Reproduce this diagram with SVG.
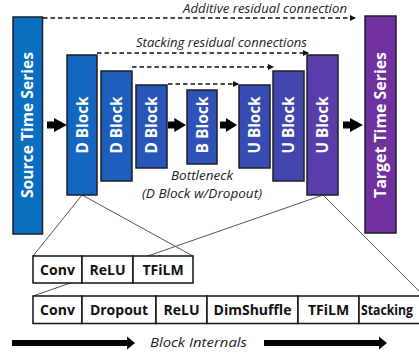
<svg xmlns="http://www.w3.org/2000/svg" width="419" height="353" viewBox="0 0 419 353">
<style>
.blk{stroke:#1e1e2a;stroke-width:1.5}
.bt{font-family:"Open Sans","Liberation Sans",sans-serif;font-weight:bold;font-size:15.5px;fill:#fff;text-anchor:middle}
.it{font-family:"Open Sans","Liberation Sans",sans-serif;font-style:italic;font-size:12.5px;fill:#222}
.dash{stroke:#111;stroke-width:1.3;stroke-dasharray:4.5,3;fill:none}
.cell{fill:#fff;stroke:#111;stroke-width:1.5}
.ct{font-family:"Open Sans","Liberation Sans",sans-serif;font-weight:bold;font-size:14px;fill:#111;text-anchor:middle}
.zoom{stroke:#555;stroke-width:1;fill:none}
</style>
<defs>
<marker id="ah" viewBox="0 0 6 6" refX="5" refY="3" markerWidth="6" markerHeight="6" markerUnits="userSpaceOnUse" orient="auto">
<path d="M0,0 L6,3 L0,6 Z" fill="#111"/>
</marker>
<path id="barrow" d="M0,-3.5 L7,-3.5 L7,-7 L20,0 L7,7 L7,3.5 L0,3.5 Z" fill="#000"/>
</defs>
<rect width="419" height="353" fill="#fff"/>

<g id="connectors">
<path class="dash" d="M43,18 H355" marker-end="url(#ah)"/>
<path class="dash" d="M97,53 H308" marker-end="url(#ah)"/>
<path class="dash" d="M132,67 H273" marker-end="url(#ah)"/>
<path class="dash" d="M168,84 H238" marker-end="url(#ah)"/>
<use href="#barrow" x="47" y="125"/>
<use href="#barrow" x="168" y="125" transform="translate(168,125) scale(0.9,1) translate(-168,-125)"/>
<use href="#barrow" x="220" y="125" transform="translate(220,125) scale(0.85,1) translate(-220,-125)"/>
<use href="#barrow" x="343" y="125"/>
<path class="zoom" d="M33,256 L82,195 L193,256"/>
<path class="zoom" d="M33,296 L323,195 L424,296"/>
</g>

<text class="it" x="183" y="13" textLength="164" lengthAdjust="spacingAndGlyphs">Additive residual connection</text>
<text class="it" x="136" y="47" textLength="171" lengthAdjust="spacingAndGlyphs">Stacking residual connections</text>
<text class="it" x="202" y="180" style="text-anchor:middle" textLength="62" lengthAdjust="spacingAndGlyphs">Bottleneck</text>
<text class="it" x="202" y="198" style="text-anchor:middle" textLength="120" lengthAdjust="spacingAndGlyphs">(D Block w/Dropout)</text>

<g id="source">
<rect class="blk" x="13" y="17" width="29.5" height="217" fill="#0a6fc0"/>
<text class="bt" transform="translate(27.5,125) rotate(-90)" y="5.5" textLength="146" lengthAdjust="spacingAndGlyphs">Source Time Series</text>
</g>
<g id="d1">
<rect class="blk" x="67" y="55" width="30" height="140" fill="#1466c0"/>
<text class="bt" transform="translate(82,125) rotate(-90)" y="5.5" textLength="57" lengthAdjust="spacingAndGlyphs">D Block</text>
</g>
<g id="d2">
<rect class="blk" x="101" y="71" width="31" height="110" fill="#1d5dbc"/>
<text class="bt" transform="translate(116.5,125) rotate(-90)" y="5.5" textLength="57" lengthAdjust="spacingAndGlyphs">D Block</text>
</g>
<g id="d3">
<rect class="blk" x="136" y="85" width="31" height="83" fill="#2755b8"/>
<text class="bt" transform="translate(151.5,125) rotate(-90)" y="5.5" textLength="57" lengthAdjust="spacingAndGlyphs">D Block</text>
</g>
<g id="b">
<rect class="blk" x="187" y="90" width="30" height="74" fill="#2f52b6"/>
<text class="bt" transform="translate(202,125) rotate(-90)" y="5.5" textLength="57" lengthAdjust="spacingAndGlyphs">B Block</text>
</g>
<g id="u1">
<rect class="blk" x="239" y="85" width="31" height="83" fill="#374cb2"/>
<text class="bt" transform="translate(254.5,125) rotate(-90)" y="5.5" textLength="57" lengthAdjust="spacingAndGlyphs">U Block</text>
</g>
<g id="u2">
<rect class="blk" x="273" y="71" width="31" height="110" fill="#4245ae"/>
<text class="bt" transform="translate(288.5,125) rotate(-90)" y="5.5" textLength="57" lengthAdjust="spacingAndGlyphs">U Block</text>
</g>
<g id="u3">
<rect class="blk" x="307" y="55" width="31" height="140" fill="#583dab"/>
<text class="bt" transform="translate(322.5,125) rotate(-90)" y="5.5" textLength="57" lengthAdjust="spacingAndGlyphs">U Block</text>
</g>
<g id="target">
<rect class="blk" x="365" y="16" width="31" height="217" fill="#7030a0"/>
<text class="bt" transform="translate(380.5,125) rotate(-90)" y="5.5" textLength="146" lengthAdjust="spacingAndGlyphs">Target Time Series</text>
</g>

<g id="table1">
<rect class="cell" x="33" y="256" width="49" height="27"/>
<rect class="cell" x="82" y="256" width="51" height="27"/>
<rect class="cell" x="133" y="256" width="60" height="27"/>
<text class="ct" x="57.5" y="274.5">Conv</text>
<text class="ct" x="107.5" y="274.5">ReLU</text>
<text class="ct" x="163" y="274.5">TFiLM</text>
</g>
<g id="table2">
<rect class="cell" x="33" y="296" width="49" height="27.5"/>
<rect class="cell" x="82" y="296" width="74" height="27.5"/>
<rect class="cell" x="156" y="296" width="51" height="27.5"/>
<rect class="cell" x="207" y="296" width="91" height="27.5"/>
<rect class="cell" x="298" y="296" width="61" height="27.5"/>
<rect class="cell" x="359" y="296" width="66" height="27.5"/>
<text class="ct" x="57.5" y="315">Conv</text>
<text class="ct" x="119" y="315">Dropout</text>
<text class="ct" x="181.5" y="315">ReLU</text>
<text class="ct" x="252.5" y="315">DimShuffle</text>
<text class="ct" x="328.5" y="315">TFiLM</text>
<text class="ct" x="361" y="315" style="text-anchor:start" textLength="52" lengthAdjust="spacingAndGlyphs">Stacking</text>
</g>

<g id="internals">
<path d="M12,340 L127,340 L127,336.5 L135,343 L127,349.5 L127,346 L12,346 Z" fill="#000"/>
<path d="M264,340 L379,340 L379,336.5 L387,343 L379,349.5 L379,346 L264,346 Z" fill="#000"/>
<text class="it" x="150" y="347" font-size="13.5" textLength="97" lengthAdjust="spacingAndGlyphs">Block Internals</text>
</g>
</svg>
